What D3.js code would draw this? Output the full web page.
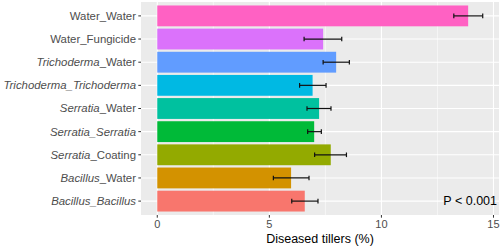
<!DOCTYPE html>
<html lang="en">
<head>
  <meta charset="UTF-8">
  <title>Diseased tillers</title>
  <script src="https://d3js.org/d3.v7.min.js"></script>
  <style>
    body {
      margin: 0;
      background: #fff;
      font-family: "Liberation Sans", Arial, sans-serif;
    }
    svg { display: block; }
  </style>
</head>
<body>
<svg width="500" height="248"></svg>
<script>
  // treatments, bottom to top as drawn
  const treatments = ["Bacillus_Bacillus", "Bacillus_Water", "Serratia_Coating", "Serratia_Serratia",
    "Serratia_Water", "Trichoderma_Trichoderma", "Trichoderma_Water", "Water_Fungicide", "Water_Water"];
  const means = [6.58, 5.97, 7.74, 7.0, 7.22, 6.93, 7.98, 7.40, 13.87];
  const lower = [6.0, 5.18, 7.02, 6.71, 6.68, 6.35, 7.40, 6.55, 13.23];
  const upper = [7.17, 6.77, 8.44, 7.32, 7.75, 7.53, 8.57, 8.23, 14.52];
  const colors = ["#F8766D", "#D39200", "#93AA00", "#00BA38", "#00C19F", "#00B9E3", "#619CFF", "#DB72FB", "#FF61C3"];
  // which parts of each label are genus names (italic)
  const italicParts = [[true, true], [true, false], [true, false], [true, true], [true, false],
    [true, true], [true, false], [false, false], [false, false]];
  const xTicks = [0, 5, 10, 15];
  const xMinor = [2.5, 7.5, 12.5];

  const svg = d3.select("svg");
  const panel = {left: 141, right: 499, top: 2, bottom: 215};

  const xMax = d3.max(upper);
  const pad = xMax * 0.05;
  const x = d3.scaleLinear().domain([-pad, xMax + pad]).range([panel.left, panel.right]);

  const y = d3.scaleBand()
          .domain(treatments.slice().reverse())
          .range([panel.top, panel.bottom])
          .paddingInner(0.1)
          .paddingOuter(0.15);

  svg.append("rect")
          .attr("x", panel.left).attr("y", panel.top)
          .attr("width", panel.right - panel.left).attr("height", panel.bottom - panel.top)
          .attr("fill", "#EBEBEB");

  const grid = svg.append("g");
  grid.selectAll(".minor").data(xMinor).join("line")
          .attr("x1", d => x(d)).attr("x2", d => x(d))
          .attr("y1", panel.top).attr("y2", panel.bottom)
          .attr("stroke", "#fff").attr("stroke-width", 0.55);
  grid.selectAll(".major").data(xTicks).join("line")
          .attr("x1", d => x(d)).attr("x2", d => x(d))
          .attr("y1", panel.top).attr("y2", panel.bottom)
          .attr("stroke", "#fff").attr("stroke-width", 1.1);
  grid.selectAll(".hmajor").data(treatments).join("line")
          .attr("x1", panel.left).attr("x2", panel.right)
          .attr("y1", d => y(d) + y.bandwidth() / 2).attr("y2", d => y(d) + y.bandwidth() / 2)
          .attr("stroke", "#fff").attr("stroke-width", 1.1);

  const rows = treatments.map((t, i) => ({t, m: means[i], lo: lower[i], hi: upper[i], c: colors[i], it: italicParts[i]}));

  svg.append("g").selectAll("rect").data(rows).join("rect")
          .attr("x", x(0))
          .attr("y", d => y(d.t))
          .attr("width", d => x(d.m) - x(0))
          .attr("height", y.bandwidth())
          .attr("fill", d => d.c);

  const capH = y.step() * 0.1;
  const eb = svg.append("g").attr("stroke", "#111").attr("stroke-width", 1.2);
  rows.forEach(d => {
    const cy = y(d.t) + y.bandwidth() / 2;
    eb.append("line").attr("x1", x(d.lo)).attr("x2", x(d.hi)).attr("y1", cy).attr("y2", cy);
    eb.append("line").attr("x1", x(d.lo)).attr("x2", x(d.lo)).attr("y1", cy - capH).attr("y2", cy + capH);
    eb.append("line").attr("x1", x(d.hi)).attr("x2", x(d.hi)).attr("y1", cy - capH).attr("y2", cy + capH);
  });

  // y axis: ticks + mixed italic labels
  const yAxis = svg.append("g");
  rows.forEach(d => {
    const cy = y(d.t) + y.bandwidth() / 2;
    yAxis.append("line").attr("x1", panel.left - 2.7).attr("x2", panel.left)
            .attr("y1", cy).attr("y2", cy).attr("stroke", "#333").attr("stroke-width", 1);
    const parts = d.t.split("_");
    const txt = yAxis.append("text")
            .attr("x", panel.left - 5).attr("y", cy).attr("dy", "0.35em")
            .attr("text-anchor", "end")
            .attr("font-size", 11.4).attr("fill", "#4D4D4D");
    txt.append("tspan").attr("font-style", d.it[0] ? "italic" : "normal").text(parts[0]);
    txt.append("tspan").attr("font-style", d.it[1] ? "italic" : "normal").text("_" + parts[1]);
  });

  // x axis
  const xAxis = svg.append("g");
  xTicks.forEach(v => {
    xAxis.append("line").attr("x1", x(v)).attr("x2", x(v))
            .attr("y1", panel.bottom).attr("y2", panel.bottom + 2.7)
            .attr("stroke", "#333").attr("stroke-width", 1);
    xAxis.append("text").attr("x", x(v)).attr("y", panel.bottom + 13)
            .attr("text-anchor", "middle").attr("font-size", 11).attr("fill", "#4D4D4D")
            .text(v);
  });

  svg.append("text")
          .attr("x", (panel.left + panel.right) / 2).attr("y", 243)
          .attr("text-anchor", "middle").attr("font-size", 12.5).attr("fill", "#000")
          .text("Diseased tillers (%)");

  svg.append("text")
          .attr("x", 497).attr("y", y("Bacillus_Bacillus") + y.bandwidth() / 2).attr("dy", "0.35em")
          .attr("text-anchor", "end").attr("font-size", 12.5).attr("fill", "#000")
          .text("P < 0.001");
</script>
</body>
</html>
